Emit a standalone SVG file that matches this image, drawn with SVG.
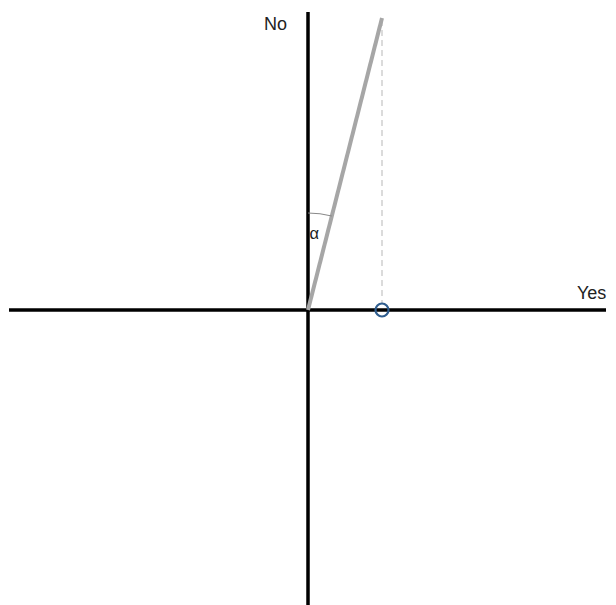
<svg xmlns="http://www.w3.org/2000/svg" width="616" height="605" viewBox="0 0 616 605">
<style>
.axis{stroke:#000;stroke-width:3.5;fill:none}
.lbl{font-family:"Liberation Sans",Arial,sans-serif;fill:#222}
</style>
<rect width="616" height="605" fill="#fff"/>
<g id="connectors">
<line class="axis" x1="9" y1="310" x2="606" y2="310"/>
<line class="axis" x1="308" y1="12" x2="308" y2="605"/>
<line x1="382" y1="20" x2="382" y2="304" stroke="#d0d0d0" stroke-width="1.5" stroke-dasharray="6,4"/>
<line x1="308" y1="310" x2="382" y2="18" stroke="#a6a6a6" stroke-width="4"/>
<path d="M308,213 A97,97 0 0 1 331.8,216" fill="none" stroke="#888" stroke-width="1"/>
</g>
<g id="point"><circle cx="382" cy="310" r="6.5" fill="none" stroke="#2f5d8e" stroke-width="2.2"/></g>
<g id="labels">
<text class="lbl" x="264" y="30" font-size="18">No</text>
<text class="lbl" x="577" y="299" font-size="18">Yes</text>
<text class="lbl" x="309.5" y="239" font-size="16.5">α</text>
</g>
</svg>
